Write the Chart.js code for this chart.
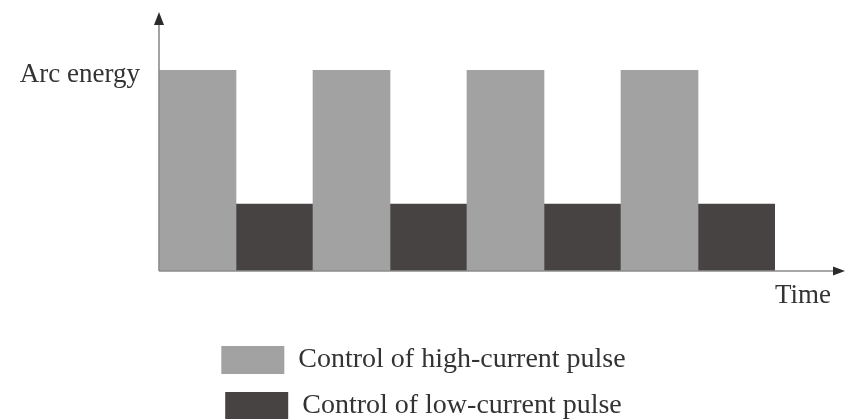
<!DOCTYPE html>
<html>
<head>
<meta charset="utf-8">
<script src="https://cdn.jsdelivr.net/npm/chart.js@4/dist/chart.umd.min.js"></script>
<style>
  body { margin: 0; background: #fff; }
  #wrap { width: 847px; height: 419px; position: relative; }
</style>
</head>
<body>
<div id="wrap"><canvas id="myChart"></canvas></div>
<script>
'use strict';

// eight equal time slots, alternating high / low current pulses
let slots = ['1', '2', '3', '4', '5', '6', '7', '8'];
let highPulse = [3, null, 3, null, 3, null, 3, null];
let lowPulse = [null, 1, null, 1, null, 1, null, 1];
let seriesNames = ['Control of high-current pulse', 'Control of low-current pulse'];
let yTitle = 'Arc energy';
let xTitle = 'Time';

const ctx = document.getElementById('myChart').getContext('2d');
const serif = '"Liberation Serif", "Times New Roman", serif';

// draws the arrowed axes and the two axis words
let arrowAxes = {
  id: 'arrowAxes',
  afterDraw(chart) {
    let c = chart.ctx;
    let area = chart.chartArea;
    let x0 = area.left;
    let y0 = chart.scales.y.getPixelForValue(0);
    let yTop = area.top + 12;
    let xEnd = chart.width - 2;

    c.save();
    c.strokeStyle = '#8c8c8c';
    c.lineWidth = 1.6;
    c.beginPath();
    c.moveTo(x0, y0);
    c.lineTo(x0, yTop + 10);
    c.moveTo(x0, y0);
    c.lineTo(xEnd - 8, y0);
    c.stroke();

    c.fillStyle = '#2b2b2b';
    c.beginPath();
    c.moveTo(x0, yTop);
    c.lineTo(x0 - 5, yTop + 13);
    c.lineTo(x0 + 5, yTop + 13);
    c.closePath();
    c.fill();
    c.beginPath();
    c.moveTo(xEnd, y0);
    c.lineTo(xEnd - 12, y0 - 4.5);
    c.lineTo(xEnd - 12, y0 + 4.5);
    c.closePath();
    c.fill();

    c.fillStyle = '#333333';
    c.font = '27px ' + serif;
    c.textBaseline = 'alphabetic';
    c.textAlign = 'right';
    c.fillText(yTitle, x0 - 19, chart.scales.y.getPixelForValue(3) + 12);
    c.textAlign = 'left';
    c.font = '27px ' + serif;
    c.fillText(xTitle, area.right, y0 + 32);
    c.restore();
  }
};

let chartObject = {
  type: 'bar',
  data: {
    labels: slots,
    datasets: [{
      label: seriesNames[0],
      data: highPulse,
      backgroundColor: '#a2a2a2',
      borderWidth: 0,
      barPercentage: 1,
      categoryPercentage: 1
    },
    {
      label: seriesNames[1],
      data: lowPulse,
      backgroundColor: '#474342',
      borderWidth: 0,
      barPercentage: 1,
      categoryPercentage: 1
    }]
  },
  options: {
    responsive: true,
    maintainAspectRatio: false,
    animation: false,
    layout: {
      padding: { top: 0, bottom: -11, left: 0, right: 0 }
    },
    plugins: {
      tooltip: { enabled: false },
      legend: {
        position: 'bottom',
        labels: {
          boxWidth: 63,
          boxHeight: 28,
          padding: 18,
          color: '#333333',
          font: { family: serif, size: 28 }
        }
      }
    },
    scales: {
      x: {
        stacked: true,
        grid: { display: false },
        border: { display: false },
        ticks: { display: false },
        afterFit(axis) { axis.height = 57; }
      },
      y: {
        stacked: true,
        min: 0,
        max: 4.05,
        grid: { display: false },
        border: { display: false },
        ticks: { display: false },
        afterFit(axis) { axis.width = 159; }
      },
      yRight: {
        type: 'linear',
        position: 'right',
        grid: { display: false },
        border: { display: false },
        ticks: { display: false },
        afterFit(axis) { axis.width = 72; }
      }
    }
  },
  plugins: [arrowAxes]
};

new Chart(ctx, chartObject);
</script>
</body>
</html>
